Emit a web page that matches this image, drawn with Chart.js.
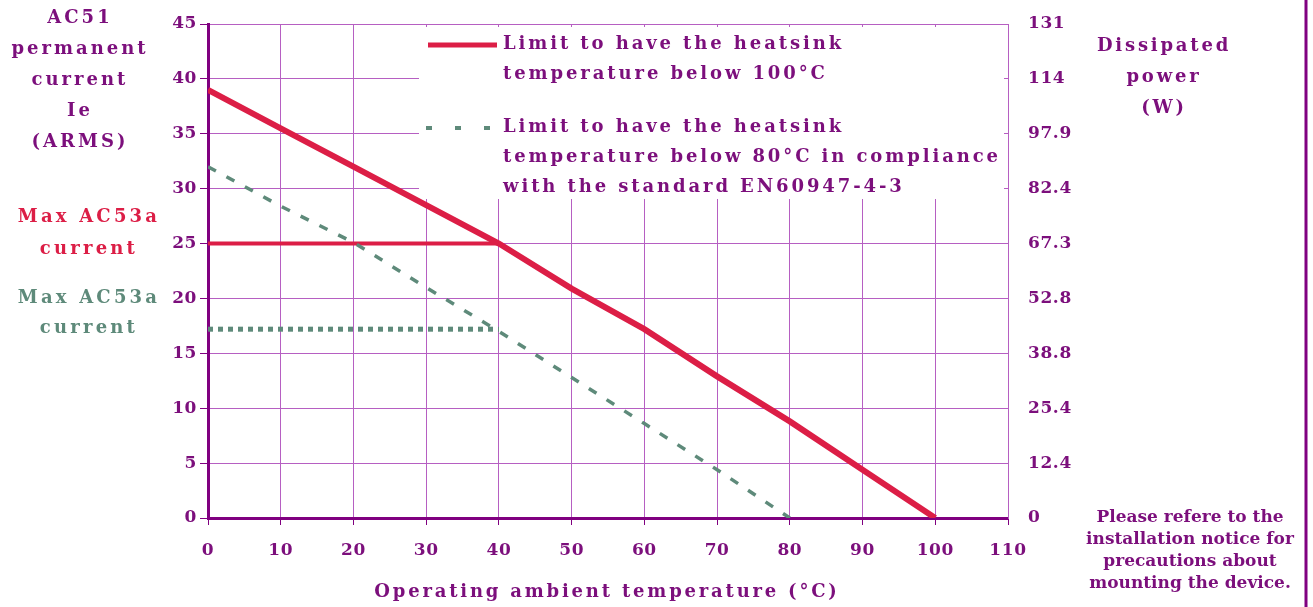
<!DOCTYPE html>
<html>
<head>
<meta charset="utf-8">
<script src="https://cdn.jsdelivr.net/npm/chart.js@4/dist/chart.umd.min.js"></script>
<style>
  html, body { margin: 0; padding: 0; background: #fff; }
  canvas { display: block; }
</style>
</head>
<body>
<canvas id="derating" width="1313" height="607"></canvas>
<script>
// values
const temps100 = [0, 10, 20, 30, 40, 50, 60, 70, 80, 90, 100];
const limit100 = [39.0, 35.5, 32.0, 28.5, 25.0, 20.9, 17.2, 12.9, 8.8, 4.4, 0];
const temps80 = [0, 10, 20, 30, 40, 50, 60, 70, 80];
const limit80 = [32.0, 28.4, 25.1, 21.0, 17.0, 12.8, 8.6, 4.4, 0];
const maxTemps = [0, 40];
const maxAc53Red = [25, 25];
const maxAc53Green = [17.2, 17.2];
const powerLabels = ['0', '12.4', '25.4', '38.8', '52.8', '67.3', '82.4', '97.9', '114', '131'];

const legend100 = ['Limit to have the heatsink', 'temperature below 100°C'];
const legend80 = ['Limit to have the heatsink', 'temperature below 80°C in compliance', 'with the standard EN60947-4-3'];
const yTitle = ['AC51', 'permanent', 'current', 'Ie', '(ARMS)'];
const y2Title = ['Dissipated', 'power', '(W)'];
const maxLabel = ['Max AC53a', 'current'];
const xTitle = 'Operating ambient temperature (°C)';
const note = ['Please refere to the', 'installation notice for', 'precautions about', 'mounting the device.'];

const PURPLE = '#7c0f7c';
const GRID = '#b65fc2';
const RED = '#dc1e46';
const GREEN = '#5e8a7a';
const FONT = '"DejaVu Serif", serif';

function pts(xs, ys) {
    return xs.map((x, i) => ({x: x, y: ys[i]}));
}

function textBlock(ctx, lines, x, y0, step, color, size, spacing, align) {
    ctx.save();
    ctx.font = 'bold ' + size + 'px ' + FONT;
    ctx.letterSpacing = spacing + 'px';
    ctx.fillStyle = color;
    ctx.textAlign = align || 'center';
    ctx.textBaseline = 'middle';
    lines.forEach((t, i) => ctx.fillText(t, x, y0 + i * step));
    ctx.restore();
}

const extras = {
    id: 'extras',
    beforeDraw(chart) {
        chart.ctx.letterSpacing = '0.6px';
    },
    beforeDatasetsDraw(chart) {
        // white panel behind the legend, hides the grid there
        const ctx = chart.ctx;
        ctx.save();
        ctx.fillStyle = '#fff';
        ctx.fillRect(419, 27, 585, 172);
        ctx.restore();
    },
    afterDraw(chart) {
        const ctx = chart.ctx;
        // legend
        ctx.save();
        ctx.strokeStyle = RED;
        ctx.lineWidth = 5;
        ctx.beginPath(); ctx.moveTo(428, 45); ctx.lineTo(497, 45); ctx.stroke();
        ctx.strokeStyle = GREEN;
        ctx.lineWidth = 4;
        ctx.setLineDash([6, 23]);
        ctx.beginPath(); ctx.moveTo(426, 128); ctx.lineTo(497, 128); ctx.stroke();
        ctx.restore();
        textBlock(ctx, legend100, 503, 44, 30, PURPLE, 18, 2.9, 'left');
        textBlock(ctx, legend80, 503, 127, 30, PURPLE, 18, 2.9, 'left');

        textBlock(ctx, yTitle, 80, 18, 31, PURPLE, 18, 3.0);
        textBlock(ctx, maxLabel, 89, 217, 32, RED, 18, 3.2);
        textBlock(ctx, maxLabel, 89, 298, 30, GREEN, 18, 3.2);
        textBlock(ctx, y2Title, 1164, 46, 31, PURPLE, 18, 2.8);
        textBlock(ctx, [xTitle], 607, 592, 0, PURPLE, 18, 2.8);
        textBlock(ctx, note, 1190, 518, 21.7, PURPLE, 17, 0);

        ctx.save();
        ctx.strokeStyle = '#800080';
        ctx.lineWidth = 3;
        ctx.beginPath(); ctx.moveTo(1306, 0); ctx.lineTo(1306, 607); ctx.stroke();
        ctx.restore();
    }
};

Chart.defaults.font.family = FONT;
Chart.defaults.font.size = 17;
Chart.defaults.font.weight = 'bold';
Chart.defaults.color = PURPLE;

const ctx = document.getElementById('derating').getContext('2d');
new Chart(ctx, {
    type: 'line',
    data: {
        datasets: [
            {
                label: legend100.join(' '),
                data: pts(temps100, limit100),
                borderColor: RED,
                borderWidth: 6,
                pointRadius: 0,
                tension: 0
            },
            {
                label: legend80.join(' '),
                data: pts(temps80, limit80),
                borderColor: GREEN,
                borderWidth: 3.5,
                borderDash: [9, 12],
                pointRadius: 0,
                tension: 0
            },
            {
                label: 'Max AC53a current (100°C)',
                data: pts(maxTemps, maxAc53Red),
                borderColor: RED,
                borderWidth: 4,
                pointRadius: 0
            },
            {
                label: 'Max AC53a current (80°C)',
                data: pts(maxTemps, maxAc53Green),
                borderColor: GREEN,
                borderWidth: 5,
                borderDash: [5, 5],
                pointRadius: 0
            }
        ]
    },
    options: {
        responsive: false,
        devicePixelRatio: 1,
        animation: false,
        layout: {padding: {top: 24, left: 0, right: 0, bottom: 0}},
        plugins: {
            legend: {display: false},
            tooltip: {enabled: false}
        },
        scales: {
            x: {
                type: 'linear',
                min: 0,
                max: 110,
                ticks: {stepSize: 10, padding: 15},
                grid: {color: GRID, lineWidth: 1, tickLength: 7, tickColor: '#800080'},
                border: {color: '#800080', width: 3},
                afterFit: s => { s.height = 89; }
            },
            y: {
                position: 'left',
                min: 0,
                max: 45,
                ticks: {stepSize: 5, padding: 3},
                grid: {color: GRID, lineWidth: 1, tickLength: 8, tickColor: '#800080'},
                border: {color: '#800080', width: 3},
                afterFit: s => { s.width = 208; }
            },
            y2: {
                position: 'right',
                min: 0,
                max: 45,
                ticks: {
                    stepSize: 5,
                    padding: 2,
                    callback: (v, i) => powerLabels[i]
                },
                grid: {drawOnChartArea: false, tickLength: 18, tickColor: 'rgba(0,0,0,0)'},
                border: {color: GRID, width: 1},
                afterFit: s => { s.width = 305; }
            }
        }
    },
    plugins: [extras]
});
</script>
</body>
</html>
